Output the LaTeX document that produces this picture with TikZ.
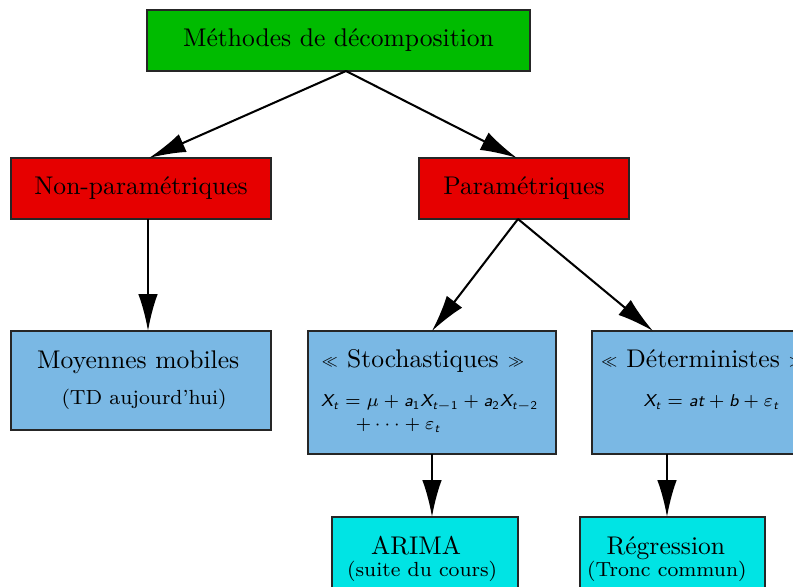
\documentclass[tikz,border=0pt]{standalone}
\usepackage{amsmath}
\usetikzlibrary{arrows.meta,calc}
\definecolor{cgreen}{RGB}{0,187,0}
\definecolor{cred}{RGB}{230,0,0}
\definecolor{cblue}{RGB}{122,184,228}
\definecolor{ccyan}{RGB}{0,228,228}
\newcommand\pu{0.391pt}
\newcommand\sv[1]{\text{\sffamily\itshape #1}}
\newcommand\sn[1]{\text{\sffamily #1}}
\newcommand\gl{\raisebox{0.25ex}{$\scriptscriptstyle\ll$}}
\newcommand\gr{\raisebox{0.25ex}{$\scriptscriptstyle\gg$}}
\begin{document}
\begin{tikzpicture}[x=0.391pt,y=-0.391pt,
  box/.style={draw=black!85,line width=0.4pt,inner sep=0pt,outer sep=0pt,rectangle,font=\fontsize{10}{12}\selectfont},
  conn/.style={line width=0.8pt,-{Latex[length=14.4pt,width=7.6pt]}},
  lbl/.style={anchor=base west,inner sep=0pt,font=\fontsize{10}{12}\selectfont},
  sml/.style={anchor=base west,inner sep=0pt,font=\fontsize{8}{10}\selectfont},
  mth/.style={anchor=base west,inner sep=0pt,font=\fontsize{6.7}{8}\selectfont}]
\useasboundingbox (0,0) rectangle (793,587);
\clip (0,0) rectangle (793,587);
% boxes
\node[box,fill=cgreen,minimum width=383*\pu,minimum height=61*\pu] (top) at (338.5,40.5) {Méthodes de décomposition};
\node[box,fill=cred,minimum width=260*\pu,minimum height=61*\pu] (nonp) at (141,188.5) {Non-paramétriques};
\node[box,fill=cred,minimum width=210*\pu,minimum height=61*\pu] (param) at (524,188.5) {Paramétriques};
\node[box,fill=cblue,minimum width=260*\pu,minimum height=99*\pu] (moy) at (141,380.5) {};
\node[box,fill=cblue,minimum width=248*\pu,minimum height=123*\pu] (stoch) at (432,392.5) {};
\node[box,fill=cblue,minimum width=248*\pu,minimum height=123*\pu] (det) at (716,392.5) {};
\node[box,fill=ccyan,minimum width=186*\pu,minimum height=99*\pu] (arima) at (425,566.5) {};
\node[box,fill=ccyan,minimum width=185*\pu,minimum height=99*\pu] (reg) at (672.5,566.5) {};
% texts
\node[lbl] (moyA) at (36.7,368.3) {Moyennes mobiles};
\node[sml] (moyB) at (61,405) {(TD aujourd'hui)};
\node[lbl] (stoA) at (320.7,368) {\gl{} Stochastiques \gr};
\node[mth] (stoB) at (320.7,406.5) {$\sv{X}_{\sv{t}}=\mu+\sv{a}_{\sn{1}}\sv{X}_{\sv{t}-\sn{1}}+\sv{a}_{\sn{2}}\sv{X}_{\sv{t}-\sn{2}}$};
\node[mth] (stoC) at (355,430) {$+\cdots+\varepsilon_{\sv{t}}$};
\node[lbl] (detA) at (600,368) {\gl{} Déterministes \gr};
\node[mth] (detB) at (643,406.5) {$\sv{X}_{\sv{t}}=\sv{at}+\sv{b}+\varepsilon_{\sv{t}}$};
\node[lbl] (ariA) at (370.7,554.3) {ARIMA};
\node[sml] (ariB) at (346.7,577) {(suite du cours)};
\node[lbl] (regA) at (606,554.3) {Régression};
\node[sml] (regB) at (586.7,577) {(Tronc commun)};
% connectors
\draw[conn] ($(top.south)+(7.5,0)$) -- ($(nonp.north)+(8,0)$);
\draw[conn] ($(top.south)+(7.5,0)$) -- ($(param.north)+(-7,0)$);
\draw[conn] ($(nonp.south)+(7,0)$) -- ($(moy.north)+(7,0)$);
\draw[conn] ($(param.south)+(-6,0)$) -- (stoch.north);
\draw[conn] ($(param.south)+(-6,0)$) -- ($(det.north west)+(61,0)$);
\draw[conn] (stoch.south) -- ($(arima.north)+(7,0)$);
\draw[conn] ($(det.south west)+(75,0)$) -- ($(reg.north)+(-5.5,0)$);
\end{tikzpicture}
\end{document}
